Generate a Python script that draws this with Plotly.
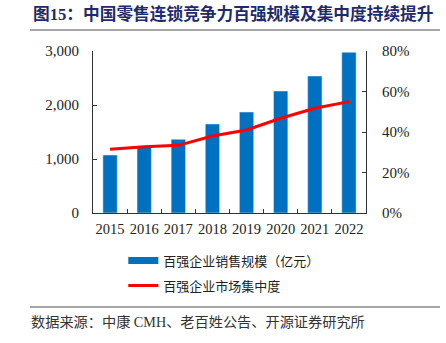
import plotly.graph_objects as go

years = ["2015", "2016", "2017", "2018", "2019", "2020", "2021", "2022"]
sales = [1074, 1230, 1364, 1648, 1870, 2259, 2537, 2976]
share = [0.315, 0.327, 0.334, 0.380, 0.410, 0.468, 0.517, 0.550]

bar_name = "百强企业销售规模（亿元）"
line_name = "百强企业市场集中度"
title = "图15：中国零售连锁竞争力百强规模及集中度持续提升"
source = "数据来源：中康 CMH、老百姓公告、开源证券研究所"

FONT = "Liberation Serif, Noto Sans CJK SC"
BLUE = "#0070C0"
RED = "#FF0000"

fig = go.Figure()
fig.add_trace(go.Bar(x=years, y=sales, marker_color=BLUE, width=0.42,
                     name=bar_name, showlegend=False, yaxis="y"))
# legend proxy for bars (wide swatch)
fig.add_trace(go.Scatter(x=[None], y=[None], mode="lines", legendgroup="a",
                         line=dict(color=BLUE, width=7), name=bar_name, yaxis="y"))
fig.add_trace(go.Scatter(x=years, y=share, mode="lines", legendgroup="b",
                         line=dict(color=RED, width=3), name=line_name, yaxis="y2"))

fig.update_layout(
    width=446, height=343,
    margin=dict(l=93, r=80, t=51, b=130),
    paper_bgcolor="white", plot_bgcolor="white",
    font=dict(family=FONT, size=13, color="#222"),
    xaxis=dict(showline=True, linecolor="#333", linewidth=1, ticks="inside",
               tickson="boundaries", ticklen=4, tickcolor="#333", tickangle=0,
               ticklabelstandoff=3,
               tickfont=dict(size=14.5, color="#222"), showgrid=False),
    yaxis=dict(range=[0, 3000], dtick=1000, tickformat=",", showline=True,
               linecolor="#333", linewidth=1, ticks="inside", ticklen=4,
               tickcolor="#333", showgrid=False, zeroline=False,
               ticklabelstandoff=10, tickfont=dict(size=15, color="#222")),
    yaxis2=dict(range=[0, 0.8], dtick=0.2, tickformat=".0%", overlaying="y",
                side="right", showline=True, linecolor="#333", linewidth=1,
                ticks="inside", ticklen=4, tickcolor="#333", showgrid=False,
                zeroline=False, ticklabelstandoff=12,
                tickfont=dict(size=15, color="#222")),
    legend=dict(x=0.111, y=-0.2015, xanchor="left", yanchor="top",
                orientation="v", font=dict(size=13, family="Noto Sans CJK SC", color="#222"),
                itemwidth=30, tracegroupgap=5, bgcolor="rgba(0,0,0,0)"),
    showlegend=True,
)

fig.add_annotation(text="<b>" + title + "</b>", xref="paper", yref="paper",
                   x=(31 - 93) / 273, y=1.0, yshift=37, xanchor="left", yanchor="middle",
                   showarrow=False,
                   font=dict(size=16.7, family=FONT, color="#1F2A6E"))
fig.add_annotation(text=source, xref="paper", yref="paper",
                   x=(29 - 93) / 273, y=0, yshift=-109, xanchor="left", yanchor="middle",
                   showarrow=False,
                   font=dict(size=14.2, family=FONT, color="#333"))

for ypix in (30, 307):
    yp = (213 - ypix) / 162
    fig.add_shape(type="line", xref="paper", yref="paper",
                  x0=(30 - 93) / 273, x1=(440 - 93) / 273, y0=yp, y1=yp,
                  line=dict(color="#888", width=1.5))

fig.write_html("out.html")
